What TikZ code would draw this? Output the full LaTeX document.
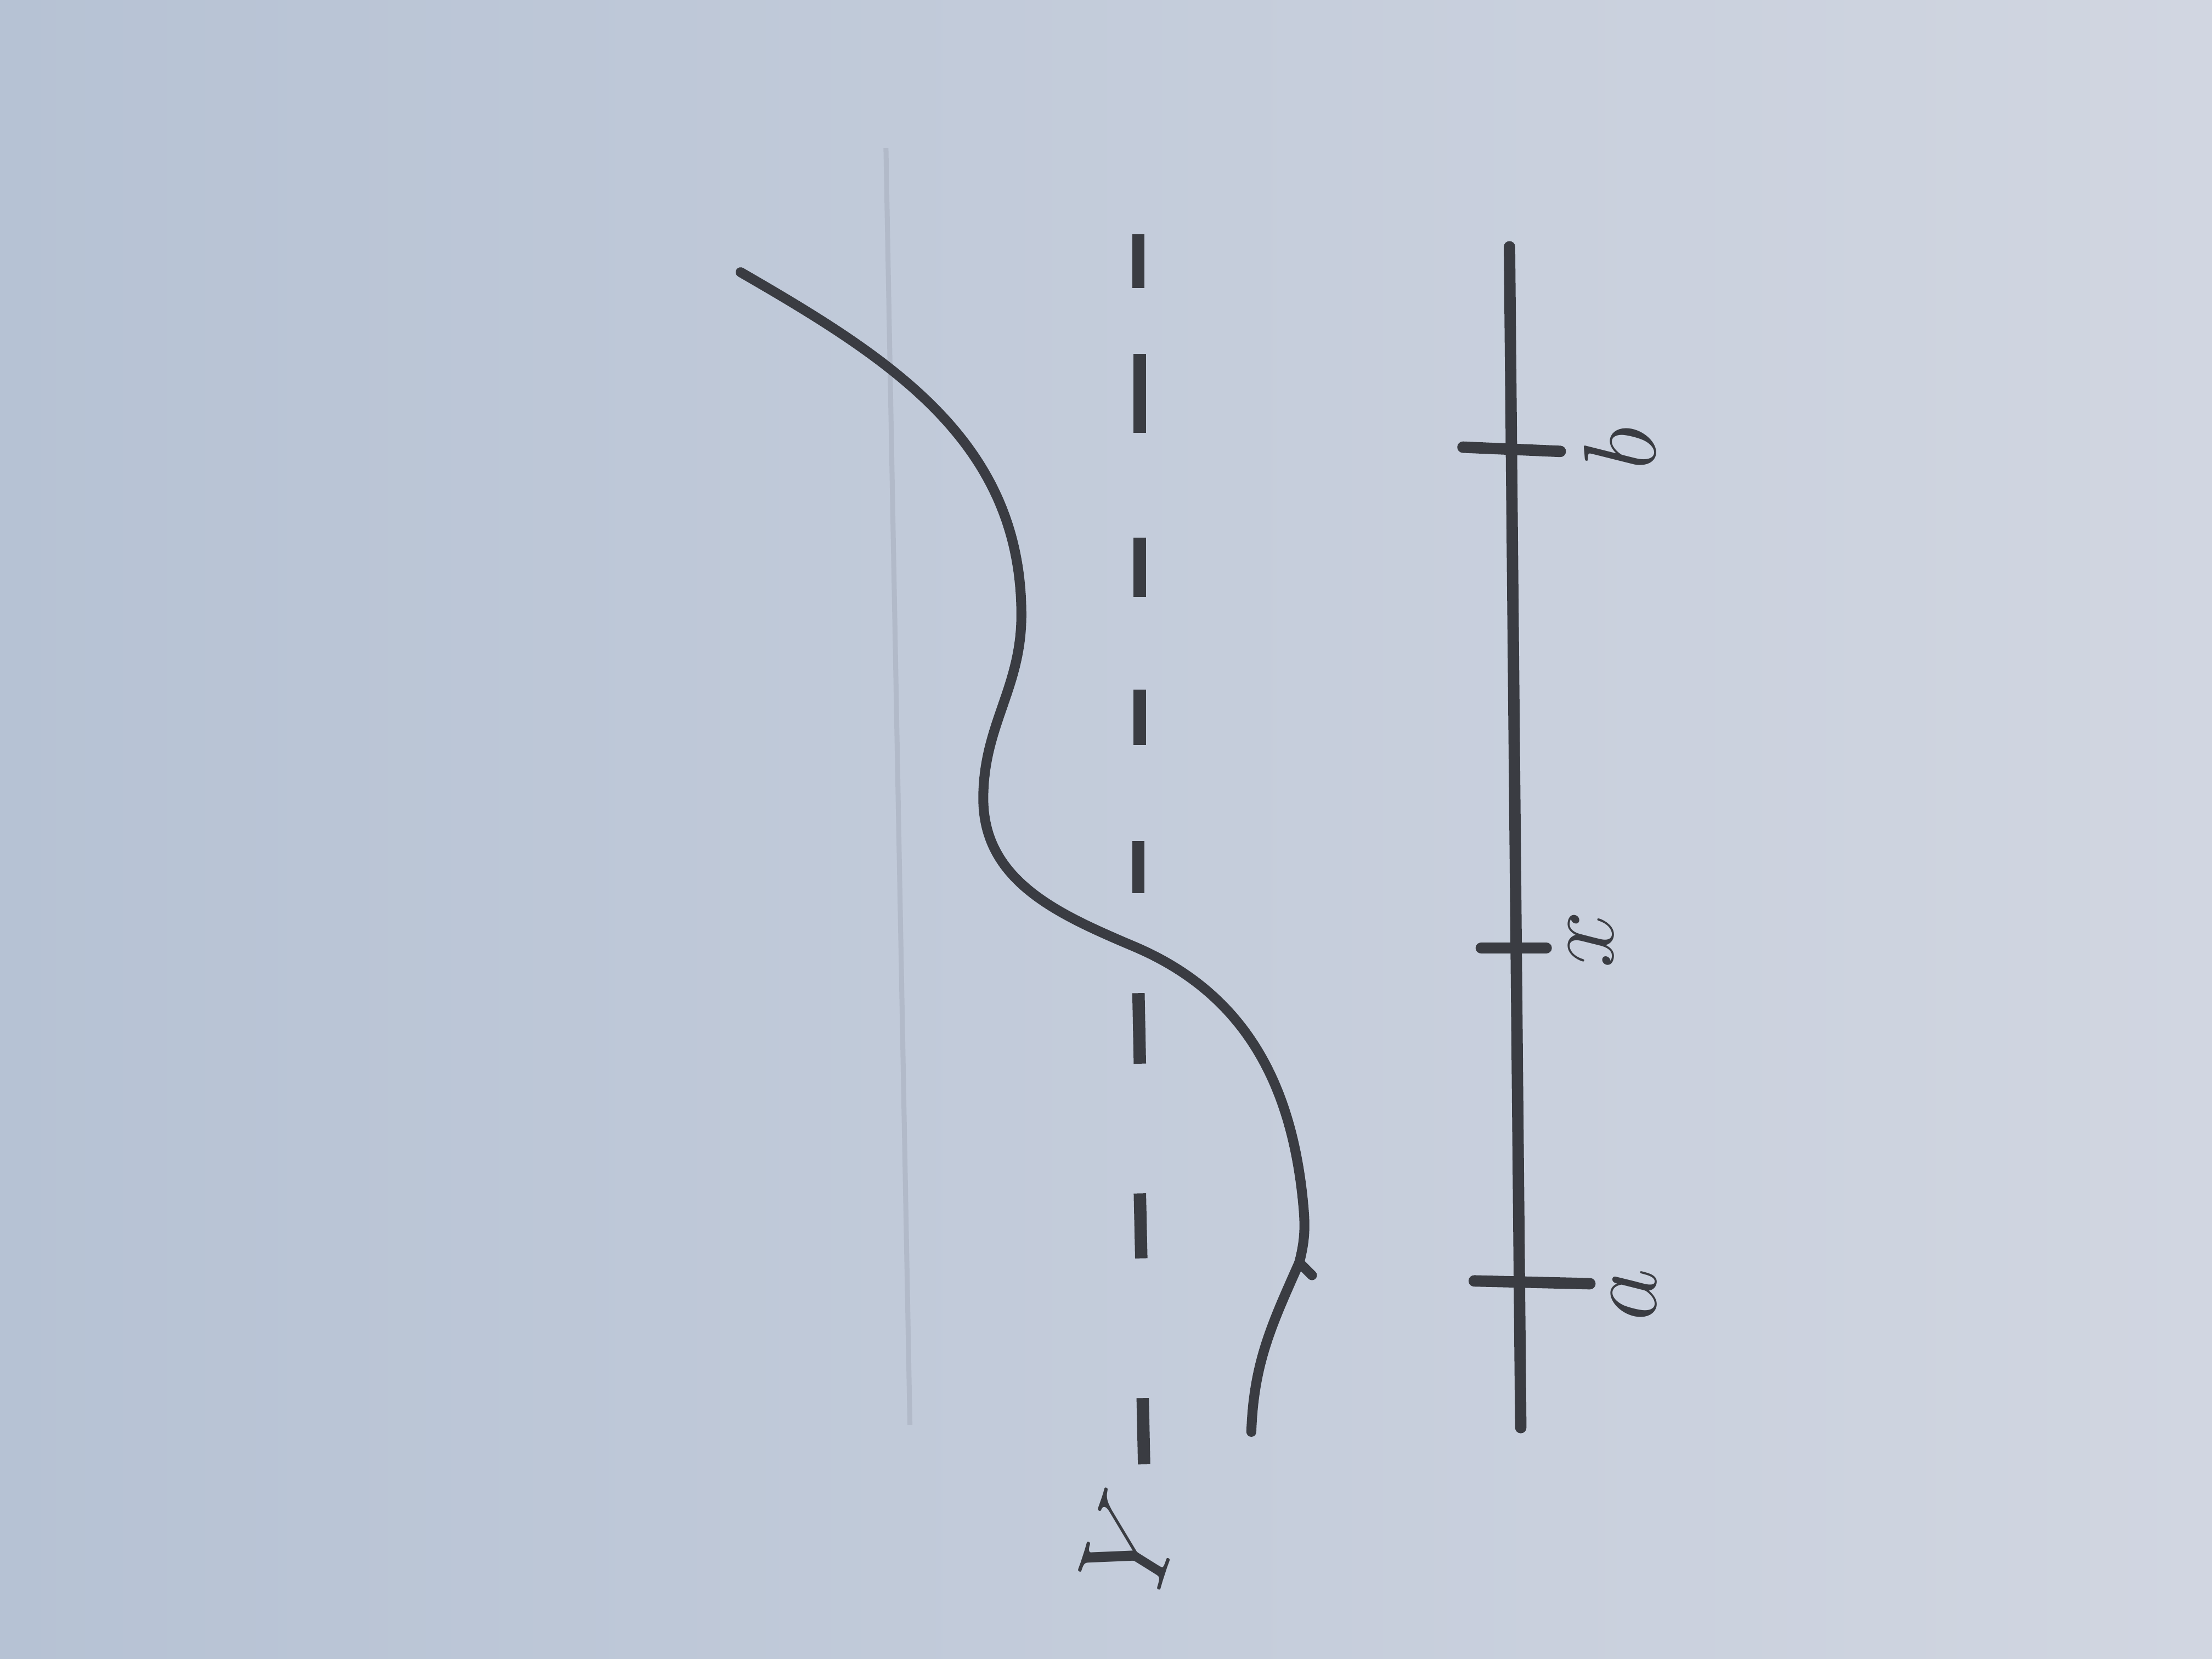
\documentclass[tikz,border=0pt]{standalone}
\definecolor{paperL}{RGB}{182,194,212}
\definecolor{paperR}{RGB}{209,214,225}
\definecolor{graphite}{RGB}{58,60,66}
\definecolor{crease}{RGB}{178,186,201}

\begin{document}
\begin{tikzpicture}[x=1cm,y=1cm,every node/.style={inner sep=0pt,text=graphite},
  lbl/.style={rotate=90,font=\fontsize{22}{26}\selectfont},
  pen/.style={graphite,line width=2pt,line cap=round,line join=round},
  dashmark/.style={graphite,line width=2.5pt}]
\shade[left color=paperL,right color=paperR] (0,0) rectangle (15.68,11.76);
\useasboundingbox (0,0) rectangle (15.68,11.76);
\draw[crease,line width=1pt] (6.28,10.71) -- (6.45,1.66);
\coordinate (kink) at (9.21,2.81);
\draw[pen] (5.25,9.83) to[out=-30,in=90] (7.24,7.40)
  to[out=-90,in=90] (6.97,6.10) to[out=-90,in=157] (8.04,5.05)
  to[out=-23,in=95] (9.24,3.20) to[out=-85,in=76] (kink);
\draw[pen] (kink) -- (9.30,2.72);
\draw[pen] (kink) to[out=-114,in=88] (8.87,1.61);
\draw[dashmark] (8.07,10.10) -- (8.07,9.72);
\draw[dashmark] (8.08,9.25) -- (8.08,8.69);
\draw[dashmark] (8.08,7.95) -- (8.08,7.53);
\draw[dashmark] (8.08,6.87) -- (8.08,6.48);
\draw[dashmark] (8.07,5.80) -- (8.07,5.43);
\draw[dashmark] (8.07,4.72) -- (8.08,4.22);
\draw[dashmark] (8.08,3.30) -- (8.09,2.84);
\draw[dashmark] (8.10,1.85) -- (8.11,1.38);
\node[font=\fontsize{36}{40}\selectfont,rotate=72] (ylab) at (8.02,0.83) {$Y$};
\draw[pen,line width=2.3pt] (10.70,10.01) -- (10.78,1.64);
\draw[pen,line width=2.3pt] (10.37,8.59) -- (11.06,8.56);
\node[lbl] (blab) at (11.48,8.58) {$b$};
\draw[pen,line width=2.3pt] (10.50,5.04) -- (10.96,5.04);
\node[lbl] (xlab) at (11.28,5.10) {$x$};
\draw[pen,line width=2.3pt] (10.45,2.68) -- (11.27,2.66);
\node[lbl] (alab) at (11.58,2.58) {$a$};
\end{tikzpicture}
\end{document}
